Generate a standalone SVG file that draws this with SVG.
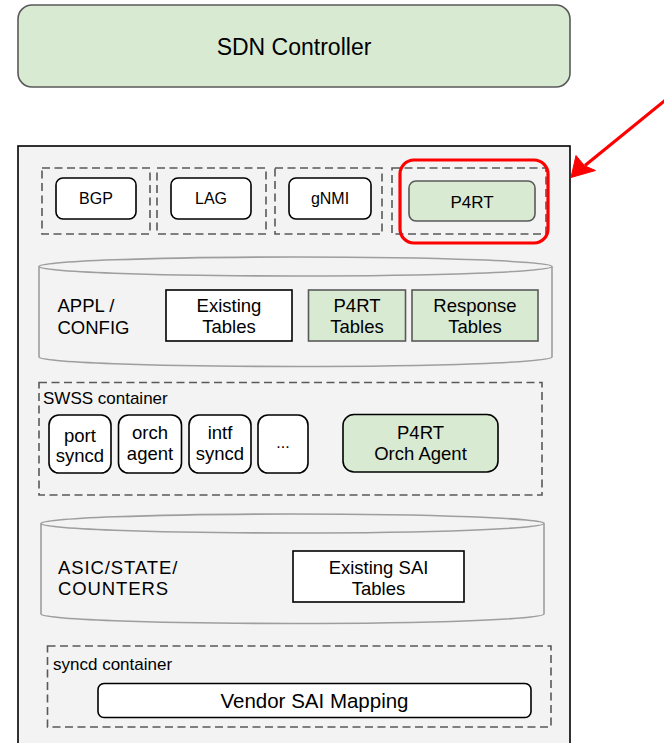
<svg xmlns="http://www.w3.org/2000/svg" width="664" height="743" viewBox="0 0 664 743">
  <style>
    text { font-family: "Liberation Sans", Arial, Helvetica, sans-serif; fill: #000; text-anchor: middle; }
    .lft { text-anchor: start; }
    .frame { fill: #f3f3f3; stroke: #000; stroke-width: 1.6; }
    .dash { fill: none; stroke: #595959; stroke-width: 1.6; stroke-dasharray: 8 4.5; }
    .db { fill: #f3f3f3; stroke: #9e9e9e; stroke-width: 1.6; }
    .dbedge { fill: none; stroke: #9e9e9e; stroke-width: 1.6; }
    .white { fill: #fff; stroke: #000; stroke-width: 1.6; }
    .green { fill: #d9ead3; stroke: #595959; stroke-width: 1.6; }
    .greenk { fill: #d9ead3; stroke: #000; stroke-width: 1.6; }
    .table { fill: #fff; stroke: #000; stroke-width: 1.6; }
    .gtable { fill: #d9ead3; stroke: #595959; stroke-width: 1.6; }
    .hl { fill: none; stroke: #ff0000; stroke-width: 3.2; }
    .f16 { font-size: 16px; }
    .f17 { font-size: 17px; }
    .f18 { font-size: 18.5px; }
    .f19w { font-size: 18.5px; letter-spacing: 0.9px; }
    .f20 { font-size: 20.5px; }
    .f23 { font-size: 23px; }
  </style>

  <!-- controller -->
  <g id="sdn-controller">
    <rect x="18" y="5" width="552" height="82" rx="14" class="green"/>
    <text x="294" y="55" class="f23">SDN Controller</text>
  </g>

  <!-- switch frame -->
  <g id="switch">
    <rect x="18" y="146" width="552" height="620" class="frame"/>
  </g>

  <!-- application containers -->
  <g id="bgp">
    <rect x="42" y="168" width="108" height="66" class="dash"/>
    <rect x="56" y="178" width="80" height="41" rx="7" class="white"/>
    <text x="96" y="204" class="f16">BGP</text>
  </g>
  <g id="lag">
    <rect x="157" y="168" width="109" height="66" class="dash"/>
    <rect x="171" y="178" width="80" height="41" rx="7" class="white"/>
    <text x="211" y="204" class="f16">LAG</text>
  </g>
  <g id="gnmi">
    <rect x="275" y="168" width="107" height="66" class="dash"/>
    <rect x="289" y="178" width="82" height="41" rx="7" class="white"/>
    <text x="330" y="204" class="f16">gNMI</text>
  </g>
  <g id="p4rt">
    <rect x="392" y="168" width="154" height="66" class="dash"/>
    <rect x="409" y="181" width="126" height="40" rx="7" class="green"/>
    <text x="472" y="208" class="f17">P4RT</text>
    <rect x="400" y="160" width="148" height="83" rx="14" class="hl"/>
  </g>

  <!-- APPL / CONFIG database -->
  <g id="appl-db">
    <path d="M39,266.5 A256.5,9.5 0 0 1 552,266.5 L552,357 A256.5,9.5 0 0 1 39,357 Z" class="db"/>
    <path d="M39,266.5 A256.5,9.5 0 0 0 552,266.5" class="dbedge"/>
    <text x="57.5" y="312" class="f18 lft">APPL /</text>
    <text x="57.5" y="334" class="f18 lft">CONFIG</text>
  </g>
  <g id="existing-tables">
    <rect x="166" y="290" width="126" height="51" class="table"/>
    <text x="229" y="312" class="f18">Existing</text>
    <text x="229" y="333" class="f18">Tables</text>
  </g>
  <g id="p4rt-tables">
    <rect x="308.5" y="290" width="97" height="51" class="gtable"/>
    <text x="357" y="312" class="f18">P4RT</text>
    <text x="357" y="333" class="f18">Tables</text>
  </g>
  <g id="response-tables">
    <rect x="412" y="290" width="126" height="51" class="gtable"/>
    <text x="475" y="312" class="f18">Response</text>
    <text x="475" y="333" class="f18">Tables</text>
  </g>

  <!-- SWSS container -->
  <g id="swss">
    <rect x="39" y="382.5" width="503" height="112.5" class="dash"/>
    <text x="43" y="404" class="f17 lft">SWSS container</text>
  </g>
  <g id="portsyncd">
    <rect x="49" y="415" width="62" height="58" rx="10" class="white"/>
    <text x="80" y="442" class="f18">port</text>
    <text x="80" y="462" class="f18">syncd</text>
  </g>
  <g id="orchagent">
    <rect x="118.5" y="415" width="63" height="58" rx="10" class="white"/>
    <text x="150" y="438.5" class="f18">orch</text>
    <text x="150" y="460" class="f18">agent</text>
  </g>
  <g id="intfsyncd">
    <rect x="189" y="415" width="62" height="58" rx="10" class="white"/>
    <text x="220" y="438.5" class="f18">intf</text>
    <text x="220" y="460" class="f18">syncd</text>
  </g>
  <g id="more">
    <rect x="258" y="415" width="50" height="58" rx="10" class="white"/>
    <text x="283" y="448" class="f16">...</text>
  </g>
  <g id="p4rt-orchagent">
    <rect x="343" y="414.5" width="155" height="57.5" rx="11" class="greenk"/>
    <text x="420.5" y="438.5" class="f18">P4RT</text>
    <text x="420.5" y="460" class="f18">Orch Agent</text>
  </g>

  <!-- ASIC / STATE / COUNTERS database -->
  <g id="asic-db">
    <path d="M41,523.5 A251.5,9.5 0 0 1 544,523.5 L544,614 A251.5,9.5 0 0 1 41,614 Z" class="db"/>
    <path d="M41,523.5 A251.5,9.5 0 0 0 544,523.5" class="dbedge"/>
    <text x="58" y="574" class="f19w lft">ASIC/STATE/</text>
    <text x="58" y="595" class="f19w lft">COUNTERS</text>
  </g>
  <g id="existing-sai-tables">
    <rect x="293" y="551" width="171" height="51" class="table"/>
    <text x="378.5" y="573.5" class="f18">Existing SAI</text>
    <text x="378.5" y="594.5" class="f18">Tables</text>
  </g>

  <!-- syncd container -->
  <g id="syncd">
    <rect x="47.5" y="646" width="503.5" height="81" class="dash"/>
    <text x="53" y="670" class="f17 lft">syncd container</text>
  </g>
  <g id="vendor-sai">
    <rect x="98" y="683.5" width="433" height="34" rx="6" class="white"/>
    <text x="314.5" y="708" class="f20">Vendor SAI Mapping</text>
  </g>

  <!-- pointer -->
  <g id="connectors">
    <line x1="668" y1="98" x2="585" y2="165.5" stroke="#ff0000" stroke-width="3.2"/>
    <path d="M571,177.5 L576,155.5 L584.5,165.8 L595.5,170.5 Z" fill="#ff0000" stroke="#ff0000" stroke-width="1" stroke-linejoin="miter"/>
  </g>
</svg>
